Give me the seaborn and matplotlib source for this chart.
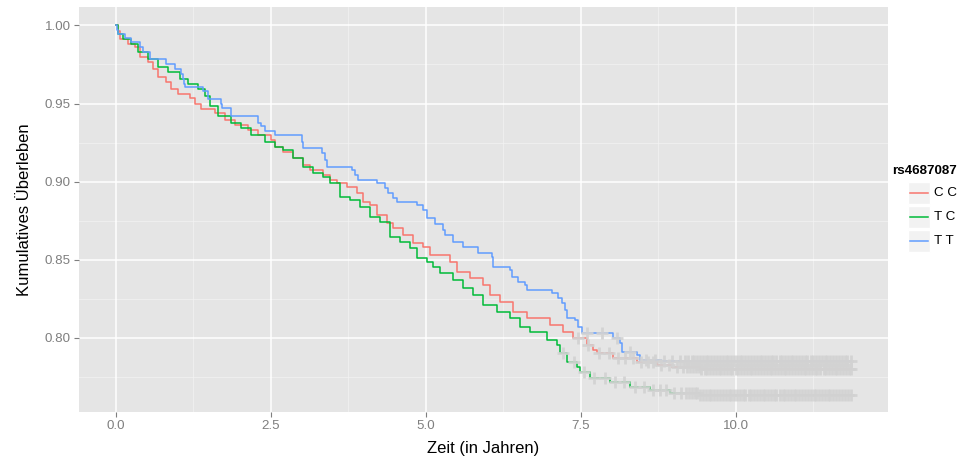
import numpy as np
import pandas as pd
import matplotlib
matplotlib.use("Agg")
import matplotlib.pyplot as plt
import seaborn as sns
from matplotlib.patches import Rectangle
from matplotlib.lines import Line2D

# ---------------- data ----------------
groups = ["C C", "T C", "T T"]
palette = ["#F8766D", "#00BA38", "#619CFF"]
legend_title = "rs4687087"

cc_time = [0.0, 0.032, 0.065, 0.194, 0.306, 0.387, 0.516, 0.597, 0.677, 0.806, 0.887,
           1.000, 1.194, 1.274, 1.371, 1.597, 1.758, 1.919, 2.129, 2.290, 2.500, 2.565,
           2.694, 2.855, 3.016, 3.129, 3.339, 3.452, 3.565, 3.726, 3.887, 3.984, 4.097,
           4.210, 4.371, 4.468, 4.629, 4.790, 4.952, 5.065, 5.387, 5.500, 5.710, 5.919,
           6.032, 6.194, 6.403, 6.629, 7.000, 7.210, 7.371, 7.597, 7.694, 7.758, 8.016,
           8.403, 8.726, 8.968, 9.419, 11.87]
cc_surv = [1.0, 0.9962, 0.9910, 0.9878, 0.9859, 0.9801, 0.9763, 0.9718, 0.9667, 0.9641, 0.9590,
           0.9558, 0.9538, 0.9494, 0.9462, 0.9442, 0.9397, 0.9365, 0.9333, 0.9301, 0.9269, 0.9224,
           0.9192, 0.9154, 0.9109, 0.9077, 0.9045, 0.9013, 0.8994, 0.8968, 0.8929, 0.8872, 0.8853,
           0.8788, 0.8737, 0.8705, 0.8660, 0.8609, 0.8583, 0.8532, 0.8487, 0.8423, 0.8385, 0.8340,
           0.8276, 0.8231, 0.8167, 0.8128, 0.8083, 0.8038, 0.8000, 0.7955, 0.7923, 0.7904, 0.7872,
           0.7846, 0.7827, 0.7814, 0.7801, 0.7801]

tc_time = [0.0, 0.032, 0.113, 0.242, 0.355, 0.516, 0.677, 0.839, 1.032, 1.161, 1.323,
           1.435, 1.516, 1.645, 1.855, 2.016, 2.177, 2.403, 2.565, 2.694, 2.855, 3.016,
           3.177, 3.339, 3.452, 3.613, 3.774, 3.935, 4.097, 4.258, 4.419, 4.581, 4.742,
           4.855, 5.016, 5.113, 5.226, 5.435, 5.597, 5.758, 5.919, 6.145, 6.355, 6.516,
           6.677, 6.952, 7.113, 7.161, 7.274, 7.435, 7.484, 7.645, 7.968, 8.290, 8.613,
           8.935, 9.419, 11.87]
tc_surv = [1.0, 0.9942, 0.9910, 0.9878, 0.9833, 0.9782, 0.9731, 0.9699, 0.9654, 0.9622, 0.9590,
           0.9545, 0.9481, 0.9417, 0.9378, 0.9346, 0.9301, 0.9256, 0.9224, 0.9205, 0.9154, 0.9096,
           0.9058, 0.9032, 0.8994, 0.8904, 0.8885, 0.8840, 0.8776, 0.8744, 0.8647, 0.8615, 0.8577,
           0.8513, 0.8487, 0.8455, 0.8417, 0.8372, 0.8321, 0.8276, 0.8212, 0.8167, 0.8128, 0.8071,
           0.8038, 0.7987, 0.7955, 0.7904, 0.7846, 0.7814, 0.7782, 0.7744, 0.7718, 0.7686, 0.7667,
           0.7647, 0.7635, 0.7635]

tt_time = [0.0, 0.016, 0.032, 0.145, 0.242, 0.387, 0.435, 0.548, 0.806, 0.952, 1.048,
           1.081, 1.097, 1.113, 1.403, 1.484, 1.694, 1.710, 1.855, 2.290, 2.339, 2.403,
           2.565, 3.000, 3.016, 3.323, 3.371, 3.403, 3.806, 3.855, 3.903, 4.210, 4.339,
           4.387, 4.468, 4.532, 4.855, 4.952, 5.016, 5.145, 5.274, 5.306, 5.435, 5.597,
           5.839, 6.065, 6.081, 6.355, 6.387, 6.484, 6.597, 6.629, 7.032, 7.129, 7.194,
           7.242, 7.274, 7.403, 7.452, 7.516, 8.016, 8.129, 8.161, 8.403, 8.452, 8.80, 11.87]
tt_surv = [1.0, 0.9968, 0.9942, 0.9917, 0.9891, 0.9859, 0.9827, 0.9782, 0.9750, 0.9718, 0.9686,
           0.9654, 0.9622, 0.9609, 0.9577, 0.9526, 0.9500, 0.9474, 0.9417, 0.9378, 0.9353, 0.9321,
           0.9301, 0.9256, 0.9218, 0.9186, 0.9141, 0.9096, 0.9077, 0.9045, 0.9013, 0.8994, 0.8962,
           0.8929, 0.8897, 0.8872, 0.8853, 0.8821, 0.8769, 0.8731, 0.8692, 0.8660, 0.8615, 0.8583,
           0.8545, 0.8519, 0.8455, 0.8436, 0.8391, 0.8359, 0.8340, 0.8308, 0.8288, 0.8256, 0.8224,
           0.8179, 0.8128, 0.8115, 0.8071, 0.8032, 0.8000, 0.7968, 0.7910, 0.7891, 0.7859, 0.7853,
           0.7853]

cc_cens = [7.45, 7.62, 7.80, 7.95, 8.10, 8.22, 8.35, 8.48, 8.58, 8.66, 8.80, 8.92, 9.05, 9.15,
           9.22, 9.27, 9.31, 9.36, 9.41, 9.45, 9.50, 9.54, 9.59, 9.63, 9.68, 9.73, 9.77, 9.82,
           9.86, 9.91, 9.95, 10.00, 10.04, 10.09, 10.14, 10.18, 10.23, 10.27, 10.32, 10.36,
           10.41, 10.46, 10.50, 10.55, 10.59, 10.64, 10.68, 10.73, 10.78, 10.82, 10.87, 10.91,
           10.96, 11.00, 11.05, 11.10, 11.14, 11.19, 11.23, 11.28, 11.32, 11.37, 11.42, 11.46,
           11.51, 11.55, 11.60, 11.64, 11.69, 11.74, 11.78, 11.83, 11.87]
tc_cens = [7.22, 7.40, 7.55, 7.72, 7.90, 8.05, 8.20, 8.38, 8.52, 8.66, 8.78, 8.88, 9.00, 9.12,
           9.20, 9.25, 9.29, 9.34, 9.38, 9.43, 9.48, 9.52, 9.57, 9.61, 9.66, 9.70, 9.75, 9.80,
           9.84, 9.89, 9.93, 9.98, 10.02, 10.07, 10.12, 10.16, 10.21, 10.25, 10.30, 10.34,
           10.39, 10.44, 10.48, 10.53, 10.57, 10.62, 10.66, 10.71, 10.76, 10.80, 10.85, 10.89,
           10.94, 10.98, 11.03, 11.08, 11.12, 11.17, 11.21, 11.26, 11.30, 11.35, 11.40, 11.44,
           11.49, 11.53, 11.58, 11.62, 11.67, 11.72, 11.76, 11.81, 11.87]
tt_cens = [7.60, 7.85, 8.08, 8.30, 8.55, 8.70, 8.85, 8.98, 9.10, 9.18, 9.24, 9.29, 9.33,
           9.38, 9.43, 9.47, 9.52, 9.56, 9.61, 9.65, 9.70, 9.75, 9.79, 9.84, 9.88, 9.93,
           9.97, 10.02, 10.07, 10.11, 10.16, 10.20, 10.25, 10.29, 10.34, 10.39, 10.43, 10.48,
           10.52, 10.57, 10.61, 10.66, 10.71, 10.75, 10.80, 10.84, 10.89, 10.93, 10.98, 11.03,
           11.07, 11.12, 11.16, 11.21, 11.25, 11.30, 11.35, 11.39, 11.44, 11.48, 11.53, 11.57,
           11.62, 11.67, 11.71, 11.76, 11.80, 11.87]

x_ticks = [0.0, 2.5, 5.0, 7.5, 10.0]
x_ticklabels = ["0.0", "2.5", "5.0", "7.5", "10.0"]
y_ticks = [0.80, 0.85, 0.90, 0.95, 1.00]
y_ticklabels = ["0.80", "0.85", "0.90", "0.95", "1.00"]

# ---------------- frames ----------------
curves = {"C C": (cc_time, cc_surv), "T C": (tc_time, tc_surv), "T T": (tt_time, tt_surv)}
cens = {"C C": cc_cens, "T C": tc_cens, "T T": tt_cens}

rows = []
crow = []
for g in groups:
    t, s = curves[g]
    for ti, si in zip(t, s):
        rows.append((g, ti, si))
    ta = np.asarray(t)
    sa = np.asarray(s)
    for c in cens[g]:
        idx = np.searchsorted(ta, c, side="right") - 1
        crow.append((g, c, sa[idx]))
df = pd.DataFrame(rows, columns=["group", "time", "surv"])
cdf = pd.DataFrame(crow, columns=["group", "time", "surv"])

# ---------------- plot ----------------
W, H = 974, 461
fig = plt.figure(figsize=(W / 100, H / 100), dpi=100)
fig.patch.set_facecolor("white")
L, R, T, B = 79, 888, 7, 412
ax = fig.add_axes([L / W, 1 - B / H, (R - L) / W, (B - T) / H])
ax.set_facecolor("#E5E5E5")

FONT = ["Liberation Sans", "DejaVu Sans"]

# grid
for v in [1.25, 3.75, 6.25, 8.75, 11.25]:
    ax.axvline(v, color="#F2F2F2", lw=0.55, zorder=0)
for v in [0.775, 0.825, 0.875, 0.925, 0.975]:
    ax.axhline(v, color="#F2F2F2", lw=0.55, zorder=0)
for v in x_ticks:
    ax.axvline(v, color="white", lw=1.1, zorder=0)
for v in y_ticks:
    ax.axhline(v, color="white", lw=1.1, zorder=0)

sns.lineplot(data=df, x="time", y="surv", hue="group", hue_order=groups,
             palette=palette, drawstyle="steps-post", estimator=None, sort=False,
             lw=1.1, legend=False, ax=ax, zorder=2)

sns.scatterplot(data=cdf, x="time", y="surv", marker="+", color="#D2D2D2",
                s=64, linewidth=2.0, alpha=0.92, legend=False, ax=ax, zorder=3)

ax.set_xlim(-0.594, 12.46)
ax.set_ylim(0.7525, 1.0118)
ax.set_xticks(x_ticks)
ax.set_xticklabels(x_ticklabels)
ax.set_yticks(y_ticks)
ax.set_yticklabels(y_ticklabels)
for sp in ax.spines.values():
    sp.set_visible(False)
ax.tick_params(axis="both", colors="#7F7F7F", length=3.5, width=0.8, pad=2.5,
               labelsize=9.6)
for lab in ax.get_xticklabels() + ax.get_yticklabels():
    lab.set_family(FONT)
    lab.set_color("#7F7F7F")
ax.set_xlabel("Zeit (in Jahren)", fontsize=12, family=FONT, color="black", labelpad=6)
ax.set_ylabel("Kumulatives Überleben", fontsize=12, family=FONT, color="black", labelpad=9)

# legend (ggplot style)
fig.text(892 / W, 1 - 171 / H, legend_title, fontsize=9.6, fontweight="bold",
         family=FONT, ha="left", va="center")
for i, (g, c) in enumerate(zip(groups, palette)):
    cy = 193 + 24 * i
    fig.patches.append(Rectangle((908 / W, 1 - (cy + 11) / H), 22 / W, 22 / H,
                                 transform=fig.transFigure, facecolor="#F2F2F2",
                                 edgecolor="white", lw=1))
    fig.lines.append(Line2D([910 / W, 928 / W], [1 - cy / H, 1 - cy / H],
                            transform=fig.transFigure, color=c, lw=1.1))
    fig.text(934 / W, 1 - cy / H, g, fontsize=9.6, family=FONT, ha="left", va="center")

fig.savefig("out.png", dpi=100)
